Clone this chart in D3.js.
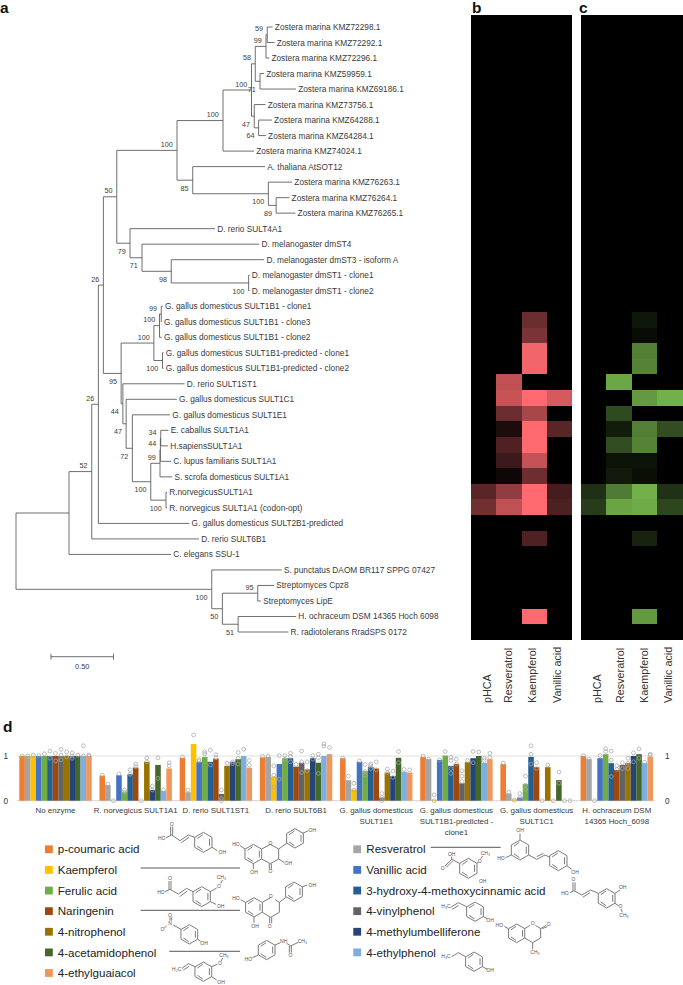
<!DOCTYPE html>
<html><head><meta charset="utf-8">
<script src="https://cdn.jsdelivr.net/npm/d3@7/dist/d3.min.js"></script>
<style>html,body{margin:0;padding:0;background:#fff}svg{display:block;font-family:"Liberation Sans",Arial,sans-serif}svg>g{opacity:.999}</style>
</head><body><svg id="c" width="683" height="985"></svg>
<script>
// ---------- panel a: tree rows [id, parent, branch length, bootstrap, taxon label]
const treeRows = [
["n0",null,0,"",""],
["n1","n0",.424,"",""],["n2","n1",.182,"52",""],["n3","n2",.053,"26",""],["n4","n3",.040,"26",""],
["n5","n4",.107,"50",""],["n6","n5",.482,"100",""],["n7","n6",.368,"100",""],["n8","n7",.228,"100",""],
["n9","n8",.030,"58",""],["n10","n9",.086,"99",""],["n11","n10",.010,"59",""],
["l0","n11",.043,"","Zostera marina KMZ72298.1"],["l1","n11",.058,"","Zostera marina KMZ72292.1"],
["l2","n10",.026,"","Zostera marina KMZ72296.1"],
["n12","n9",.038,"71",""],["l3","n12",.032,"","Zostera marina KMZ59959.1"],["l4","n12",.288,"","Zostera marina KMZ69186.1"],
["n13","n8",.022,"47",""],["l5","n13",.090,"","Zostera marina KMZ73756.1"],
["n14","n13",.035,"64",""],["l6","n14",.106,"","Zostera marina KMZ64288.1"],["l7","n14",.058,"","Zostera marina KMZ64284.1"],
["l8","n7",.248,"","Zostera marina KMZ74024.1"],
["n15","n6",.126,"85",""],["l9","n15",.578,"","A. thaliana AtSOT12"],
["n16","n15",.605,"100",""],["l10","n16",.190,"","Zostera marina KMZ76263.1"],
["n17","n16",.062,"89",""],["l11","n17",.106,"","Zostera marina KMZ76264.1"],["l12","n17",.154,"","Zostera marina KMZ76265.1"],
["n18","n5",.106,"79",""],["l13","n18",.680,"","D. rerio SULT4A1"],
["n19","n18",.096,"71",""],["l14","n19",.938,"","D. melanogaster dmST4"],
["n20","n19",.234,"98",""],["l15","n20",.744,"","D. melanogaster dmST3 - isoform A"],
["n21","n20",.619,"100",""],["l16","n21",.008,"","D. melanogaster dmST1 - clone1"],["l17","n21",.008,"","D. melanogaster dmST1 - clone2"],
["n22","n4",.142,"95",""],["n23","n22",.262,"100",""],["n24","n23",.045,"100",""],["n25","n24",.014,"99",""],
["l18","n25",.012,"","G. gallus domesticus SULT1B1 - clone1"],["l19","n25",.004,"","G. gallus domesticus SULT1B1 - clone3"],
["l20","n24",.018,"","G. gallus domesticus SULT1B1 - clone2"],
["n26","n23",.069,"100",""],["l21","n26",.008,"","G. gallus domesticus SULT1B1-predicted - clone1"],["l22","n26",.008,"","G. gallus domesticus SULT1B1-predicted - clone2"],
["n27","n22",.014,"44",""],["l23","n27",.494,"","D. rerio SULT1ST1"],
["n28","n27",.026,"47",""],["l24","n28",.406,"","G. gallus domesticus SULT1C1"],
["n29","n28",.050,"72",""],["l25","n29",.302,"","G. gallus domesticus SULT1E1"],
["n30","n29",.147,"100",""],["n31","n30",.074,"99",""],["n32","n31",.003,"44",""],["n33","n32",.003,"34",""],
["l26","n33",.062,"","E. caballus SULT1A1"],["l27","n33",.058,"","H.sapiensSULT1A1"],
["l28","n32",.086,"","C. lupus familiaris SULT1A1"],["l29","n31",.098,"","S. scrofa domesticus SULT1A1"],
["n34","n30",.122,"100",""],["l30","n34",.008,"","R.norvegicusSULT1A1"],["l31","n34",.008,"","R. norvegicus SULT1A1 (codon-opt)"],
["l32","n3",.728,"","G. gallus domesticus SULT2B1-predicted"],
["l33","n2",.858,"","D. rerio SULT6B1"],
["l34","n1",.816,"","C. elegans SSU-1"],
["n35","n0",1.566,"100",""],["l35","n35",.560,"","S. punctatus DAOM BR117 SPPG 07427"],
["n36","n35",.085,"50",""],["n37","n36",.283,"95",""],["l36","n37",.130,"","Streptomyces Cpz8"],["l37","n37",.026,"","Streptomyces LipE"],
["n38","n36",.126,"51",""],["l38","n38",.464,"","H. ochraceum DSM 14365 Hoch 6098"],["l39","n38",.402,"","R. radiotolerans RradSPS 0172"]
];
const scaleBarValue = 0.5, scaleBarLabel = "0.50";

// ---------- panels b, c: one value per tree row (0-1 colour intensity)
const heatCompounds = ["pHCA","Resveratrol","Kaempferol","Vanillic acid"];
const bPHCA = [0,0,0,0,0,0,0,0,0,0,0,0,0,0,0,0,0,0,0,0,0,0,0,0,0,0,0,0,0,0,.35,.44,0,0,0,0,0,0,0,0];
const bRes  = [0,0,0,0,0,0,0,0,0,0,0,0,0,0,0,0,0,0,0,0,0,0,0,.75,.78,.42,.11,.31,.24,.06,.57,.75,0,0,0,0,0,0,0,0];
const bKae  = [0,0,0,0,0,0,0,0,0,0,0,0,0,0,0,0,0,0,0,.42,.48,.95,.95,0,1,.66,1,1,.77,.43,1,1,0,.31,0,0,0,0,1,0];
const bVan  = [0,0,0,0,0,0,0,0,0,0,0,0,0,0,0,0,0,0,0,0,0,0,0,0,.84,0,.35,0,0,0,.27,.3,0,0,0,0,0,0,0,0];
const cPHCA = [0,0,0,0,0,0,0,0,0,0,0,0,0,0,0,0,0,0,0,0,0,0,0,0,0,0,0,0,0,0,.27,.34,0,0,0,0,0,0,0,0];
const cRes  = [0,0,0,0,0,0,0,0,0,0,0,0,0,0,0,0,0,0,0,0,0,0,0,.95,0,.42,.16,.44,.1,.15,.7,.93,0,0,0,0,0,0,0,0];
const cKae  = [0,0,0,0,0,0,0,0,0,0,0,0,0,0,0,0,0,0,0,.13,.07,.72,.74,0,.87,0,.72,.74,.1,.08,1,.97,0,.2,0,0,0,0,.87,0];
const cVan  = [0,0,0,0,0,0,0,0,0,0,0,0,0,0,0,0,0,0,0,0,0,0,0,0,1,0,.44,0,0,0,.28,.4,0,0,0,0,0,0,0,0];

// ---------- panel d
const barGroups = [["No enzyme"],["R. norvegicus SULT1A1"],["D. rerio SULT1ST1"],["D. rerio SULT6B1"],
 ["G. gallus domesticus","SULT1E1"],["G. gallus domesticus","SULT1B1-predicted -","clone1"],["G. gallus domesticus","SULT1C1"],["H. ochraceum DSM","14365 Hoch_6098"]];
const substrates = ["p-coumaric acid","Resveratrol","Kaempferol","Vanillic acid","Ferulic acid","3-hydroxy-4-methoxycinnamic acid","Naringenin","4-vinylphenol","4-nitrophenol","4-methylumbelliferone","4-acetamidophenol","4-ethylphenol","4-ethylguaiacol"];
const substrateColors = ["#ED7D31","#A5A5A5","#FFC000","#4472C4","#70AD47","#255E91","#9E480E","#636363","#997300","#264478","#43682B","#7CAFDD","#F1975A"];
const legendLeft = ["p-coumaric acid","Kaempferol","Ferulic acid","Naringenin","4-nitrophenol","4-acetamidophenol","4-ethylguaiacol"];
const legendRight = ["Resveratrol","Vanillic acid","3-hydroxy-4-methoxycinnamic acid","4-vinylphenol","4-methylumbelliferone","4-ethylphenol"];
const meansNoEnzyme = [1,1,1,1,1,1,1,1,1,1,1,1,1];
const meansRn1A1 = [.56,.35,0,.57,.19,.59,.74,0,.87,.24,.80,.22,.72];
const meansDr1ST1 = [.96,.19,1.27,.87,.98,.87,.94,.15,.78,.87,.93,1,.74];
const meansDr6B1 = [.97,.98,.54,.82,.95,.95,.76,.85,.7,.95,.85,1,1.04];
const meansGg1E1 = [.95,.46,.25,.87,.66,.76,.72,.07,.63,.55,.96,.65,.63];
const meansGg1B1 = [.98,.93,.02,.91,1.01,.78,.82,.39,.86,.95,1,.85,.93];
const meansGg1C1 = [.82,.16,.03,.07,.37,.98,.75,0,.75,0,.46,0,0];
const meansHo6098 = [1,.93,0,.95,1.04,.84,.69,.8,.84,1,1.04,.84,.98];
const repsNoEnzyme = [[1],[1],[1.02],[1.01],[1.05],[1.11,.95],[1.06,.89],[1.15,1.02,.91],[1.09,.98],[1.07,1,.95],[1.02],[1.23,1],[1.02,1]];
const repsRn1A1 = [[.57],[.37],[0],[.6],[.24,.19],[.69,.59],[.82,.76],[0],[.96,.87],[.33,.24],[.96,.5],[.24],[.85,.78]];
const repsDr1ST1 = [[.98],[.24],[1.47],[.92,.89],[1.09,1.05],[1.13,.8],[1.03,.96],[.24,.05,0],[.84],[.87,.83],[1.08,.95,.82],[1.15],[.9,.8,.63]];
const repsDr6B1 = [[.99],[1],[.78,.57,.31],[1.01,.48],[1.01,.93],[1.06,.99,.87],[.81],[1.11,.87,.63],[.87,.67],[1.01,.93],[1.04,.96,.61],[1.27,1.22],[1.19,.99]];
const repsGg1E1 = [[.95],[.55],[.39,.24],[.89],[.81,.65,.57],[.82,.78,.72],[.87,.69],[.16,.07,0],[.71,.63],[.66,.52],[1.1,.85],[.7],[.69]];
const repsGg1B1 = [[1],[.93],[.13,0],[.91],[1.1],[.97,.9,.72,.61],[.93,.82],[.67,.55,.43],[.9],[1.1,.85],[1.09],[.95,.9],[1.06,.97]];
const repsGg1C1 = [[.84],[.19],[.01],[.16,.07],[.55,.35,.25],[1.23,1.04,.82],[.85,.72],[0],[.8],[0],[.64,.39],[0],[0]];
const repsHo6098 = [[1.01],[.93],[0],[1.01],[1.16,1.1],[1.11,.91,.54],[.78,.7],[.85,.72],[.95,.84,.72],[1.07,.87],[1.16,.95],[.86],[1.04,1.02]];
const allMeans = [meansNoEnzyme,meansRn1A1,meansDr1ST1,meansDr6B1,meansGg1E1,meansGg1B1,meansGg1C1,meansHo6098];
const allReps = [repsNoEnzyme,repsRn1A1,repsDr1ST1,repsDr6B1,repsGg1E1,repsGg1B1,repsGg1C1,repsHo6098];

const svg = d3.select("#c");
const ink = "#3a3a3a";

// panel letters
[["a",0,13],["b",472,13],["c",579,13],["d",3,732]].forEach(([t,x,y])=>
  svg.append("g").append("text").attr("x",x).attr("y",y).attr("font-size",15.5).attr("font-weight","bold").attr("fill","#111").text(t));

// ---------- tree
const root = d3.stratify().id(d=>d[0]).parentId(d=>d[1])(treeRows);
root.eachBefore(n=>{n.len = n.parent ? n.parent.len + n.data[2] : 0;});
const leaves = root.leaves();
const treeX = d3.scaleLinear().domain([0,4]).range([16,516]);
const treeY = d3.scalePoint().domain(leaves.map(l=>l.id)).range([27,632]);
root.eachAfter(n=>{n.y0 = n.children ? (n.children[0].y0 + n.children[n.children.length-1].y0)/2 : treeY(n.id);});
const gT = svg.append("g");
gT.append("g").attr("fill","none").attr("stroke","#555").attr("stroke-width",.85)
  .selectAll("path").data(root.descendants()).join("path")
  .attr("d",n=>{
    let s="";
    if(n.parent) s+=`M${treeX(n.parent.len)},${n.y0}H${treeX(n.len)}`;
    if(n.children) s+=`M${treeX(n.len)},${n.children[0].y0}V${n.children[n.children.length-1].y0}`;
    return s;});
gT.append("g").attr("font-size",8.3).attr("fill",ink)
  .selectAll("text").data(leaves).join("text")
  .attr("x",n=>treeX(n.len)+2.2).attr("y",n=>n.y0).attr("dy",".36em").text(n=>n.data[4]);
gT.append("g").attr("font-size",7.2).attr("fill",ink).attr("text-anchor","end")
  .selectAll("text").data(root.descendants().filter(n=>n.data[3])).join("text")
  .attr("x",n=>treeX(n.len)-4.2)
  .attr("y",n=>n.y0+(n.parent.children[0]===n?-6:8)).attr("dy",".36em").text(n=>n.data[3]);
// scale bar
const sbY=656.7, sbX0=51;
const sbW=treeX(scaleBarValue)-treeX(0);
gT.append("path").attr("fill","none").attr("stroke","#555").attr("stroke-width",.85)
  .attr("d",`M${sbX0},${sbY-3}V${sbY+3}M${sbX0},${sbY}H${sbX0+sbW}M${sbX0+sbW},${sbY-3}V${sbY+3}`);
gT.append("text").attr("x",sbX0+sbW/2).attr("y",sbY+12).attr("text-anchor","middle").attr("font-size",7.4).attr("fill",ink).text(scaleBarLabel);

// ---------- heatmaps
const rowBand = d3.scaleBand().domain(leaves.map(l=>l.id)).range([15,640]);
function heat(x0,x1,cols,top){
  const col = d3.scaleBand().domain(heatCompounds).range([x0,x1]);
  const colour = d3.scaleLinear().domain([0,1]).range(["#000000",top]);
  const g = svg.append("g").attr("shape-rendering","crispEdges");
  g.append("rect").attr("x",x0).attr("y",15).attr("width",x1-x0).attr("height",625).attr("fill","#000");
  heatCompounds.forEach((c,i)=>{
    g.append("g").selectAll("rect").data(cols[i].map((v,r)=>({v,r})).filter(d=>d.v>0)).join("rect")
      .attr("x",col(c)).attr("y",d=>rowBand(leaves[d.r].id)).attr("width",col.bandwidth()).attr("height",rowBand.bandwidth())
      .attr("fill",d=>colour(d.v));
  });
}
heat(471.3,572,[bPHCA,bRes,bKae,bVan],"#ff6a70");
heat(580.5,683,[cPHCA,cRes,cKae,cVan],"#72b04a");
const labelCentres = [[486.7,508,532,556.7],[597,620,644,668]];
const gCol = svg.append("g");
labelCentres.forEach(cs=>cs.forEach((x,i)=>
  gCol.append("text").attr("transform",`translate(${x+3.8},703) rotate(-90)`).attr("font-size",10.8).attr("fill","#333").text(heatCompounds[i])));

// ---------- bars
const gB = svg.append("g");
const yB = d3.scaleLinear().domain([0,1]).range([800.7,756]);
const xG = d3.scaleBand().domain(d3.range(barGroups.length)).range([19.3,653]).paddingInner(.097).paddingOuter(0);
const xS = d3.scaleBand().domain(substrates).range([0,xG.bandwidth()]);
gB.append("g").attr("stroke-width",.9)
  .selectAll("line").data([0,1]).join("line").attr("x1",17).attr("x2",655)
  .attr("y1",d=>yB(d)).attr("y2",d=>yB(d)).attr("stroke",d=>d?"#dedede":"#cfcfcf");
allMeans.forEach((m,gi)=>{
  gB.append("g").selectAll("rect").data(m.map((v,i)=>({v,s:substrates[i],c:substrateColors[i]}))).join("rect")
    .attr("x",d=>xG(gi)+xS(d.s)).attr("y",d=>yB(d.v)).attr("width",xS.bandwidth()).attr("height",d=>yB(0)-yB(d.v)).attr("fill",d=>d.c);
});
allReps.forEach((reps,gi)=>{
  const pts = reps.flatMap((vs,i)=>vs.map(v=>({v,s:substrates[i]})));
  gB.append("g").attr("fill","none").attr("stroke","#a8a8a8").attr("stroke-width",.75)
    .selectAll("circle").data(pts).join("circle")
    .attr("cx",d=>xG(gi)+xS(d.s)+xS.bandwidth()/2).attr("cy",d=>yB(d.v)).attr("r",1.9);
});
[[d3.axisLeft,17],[d3.axisRight,656]].forEach(([ax,x])=>{
  const g=gB.append("g").attr("transform",`translate(${x},0)`)
    .call(ax(yB).tickValues([0,1]).tickFormat(d3.format("d")).tickSize(0).tickPadding(9));
  g.select(".domain").remove();
  g.selectAll("text").attr("font-size",8.2).attr("fill","#333").attr("font-family","inherit");
});
const gl = gB.append("g").attr("font-size",7.9).attr("fill",ink).attr("text-anchor","middle");
barGroups.forEach((lines,gi)=>lines.forEach((t,k)=>
  gl.append("text").attr("x",xG(gi)+xG.bandwidth()/2).attr("y",813+k*11).text(t)));

// ---------- legend
function legend(items,xBox,xText){
  const y = d3.scalePoint().domain(d3.range(7)).range([849.3,973]);
  const g = svg.append("g");
  items.forEach((t,i)=>{
    g.append("rect").attr("x",xBox).attr("y",y(i)-3.9).attr("width",7.8).attr("height",7.8).attr("fill",substrateColors[substrates.indexOf(t)]);
    g.append("text").attr("x",xText).attr("y",y(i)).attr("dy",".36em").attr("font-size",11.6).attr("fill","#222").text(t);
  });
}
legend(legendLeft,45,57.7);
legend(legendRight,353.3,366.3);
svg.append("path").attr("stroke","#444").attr("stroke-width",.9).attr("fill","none")
  .attr("d","M140.7,868H240M140.7,910.3H240M169.3,951.3H240M430.7,847.3H500.7");

// ---------- chemical structures (illustration, drawn at 3x then scaled)
function hex(cx,cy,R){
  const w=R*.866,h=R/2, iw=w*.72;
  return `M${cx},${cy-R}L${cx+w},${cy-h}V${cy+h}L${cx},${cy+R}L${cx-w},${cy+h}V${cy-h}Z`+
   `M${cx+iw},${cy-h*.7}V${cy+h*.7}M${cx-iw*.98},${cy+h*.75}L${cx-iw*.1},${cy+R*.76}M${cx-iw*.98},${cy-h*.75}L${cx-iw*.1},${cy-R*.76}`;
}
function mol(ox,paths,labels){
  const g=svg.append("g").attr("transform",`translate(${ox},800) scale(${1/3})`);
  g.append("path").attr("d",paths).attr("fill","none").attr("stroke","#666").attr("stroke-width",2.6);
  labels.forEach(([t,x,y])=>g.append("text").attr("x",x).attr("y",y).attr("dy",".36em").attr("text-anchor","middle").attr("font-size",15).attr("fill","#555").text(t));
}
mol(0,hex(610,127,30)+"M584,112L565,105L540,122L515,105L498,113M567,112L544,128M512,105V80M518,105V80M636,142L652,152",
  [["HO",485,116],["O",515,73],["OH",667,158]]);
mol(0,hex(760,162,29)+"M785,147L811,133M811,133L836,147V177L811,191L785,177M836,147L860,130"+hex(885,115,29)+"M735,147L720,137M808,191V208M814,191V208M836,177L852,187M760,191V208M908,100L925,92",
  [["HO",708,132],["O",811,130],["O",811,215],["OH",865,191],["OH",762,218],["OH",937,90]]);
mol(0,hex(605,290,30)+"M579,275L560,265L535,282L510,268L495,275M562,273L539,290M507,268V243M513,268V243M631,275L650,264M662,250L668,240M631,305L648,313",
  [["HO",483,278],["O",510,235],["O",657,259],["CH\u2083",664,233],["OH",662,318]]);
mol(0,hex(762,322,29)+"M787,307L812,293M826,299L838,307V337L812,352L787,337M838,307L858,292"+hex(882,275,29)+"M737,307L722,299M809,352V370M815,352V370M762,351V368M907,260L922,255",
  [["HO",708,296],["O",812,290],["O",809,380],["OH",765,380],["OH",937,255]]);
mol(0,hex(568,403,29)+"M520,375L543,388M510,362V352M515,362V352M500,378L493,384M593,418L602,424",
  [["O",510,345],["N",510,371],["O",487,388],["OH",612,430]]);
mol(0,hex(800,450,29)+"M775,465L757,473M825,435L841,428M860,430L872,438L895,427M868,438V458M874,438V458",
  [["HO",745,477],["NH",851,424],["O",871,466],["CH\u2083",907,424]]);
mol(0,hex(610,515,29)+"M546,505L565,491L585,500M550,510L567,499M635,500L652,493M664,483L668,474M635,530L650,540",
  [["H\u2082C",530,507],["O",660,490],["CH\u2083",672,465],["OH",663,548]]);
mol(340,hex(540,150,30)+"M540,120V100M514,165L497,173M566,165L590,178L615,165L630,172M590,170L610,160"+hex(655,182,30)+"M681,197L695,208",
  [["OH",540,92],["HO",483,175],["OH",705,217]]);
mol(340,hex(385,205,30)+"M359,190L335,178V170M335,178L315,198M338,183L319,202M411,190L416,186M422,176L428,168",
  [["OH",335,163],["O",308,205],["O",419,183],["CH\u2083",436,160],["OH",428,245]]);
mol(340,hex(800,295,29)+"M775,280L752,270L725,285L702,272L690,278M750,278L728,292M699,272V247M705,272V247M825,280L840,270M825,310L836,317M843,327L847,337",
  [["HO",675,279],["O",700,238],["OH",848,263],["O",841,320],["CH\u2083",852,347]]);
mol(340,hex(405,335,29)+"M332,322L355,308L380,320M337,328L356,316M430,350L442,356",
  [["H\u2083C",318,320],["OH",450,360]]);
mol(340,hex(530,400,28)+"M554,386L570,376M586,376L602,386V414L578,428L554,414M602,386L618,376M607,386L622,380M578,428V448M505,386L493,379",
  [["HO",478,375],["O",578,370],["O",626,372],["CH\u2083",585,457]]);
mol(340,hex(402,485,29)+"M335,470L355,458L377,470M427,500L442,508",
  [["H\u2083C",318,470],["OH",450,512]]);
</script></body></html>
